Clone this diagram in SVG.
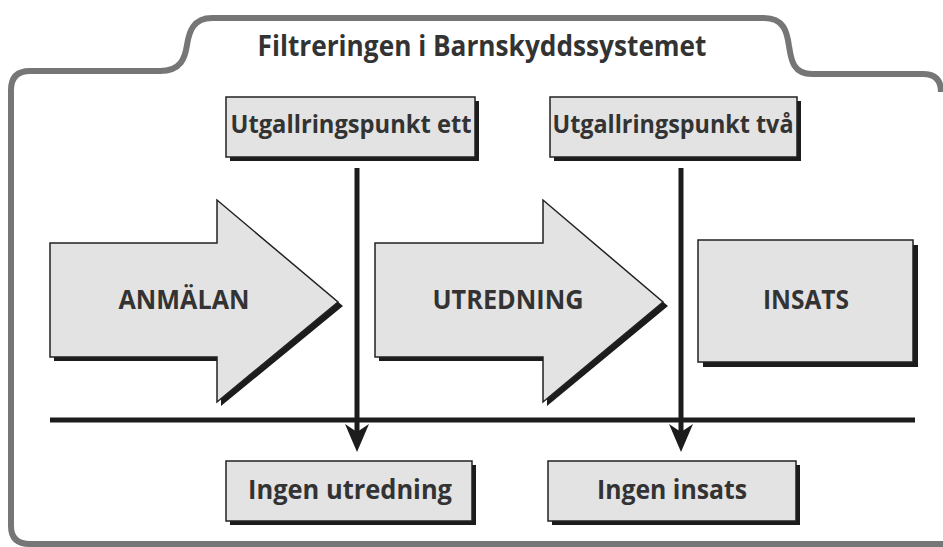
<svg xmlns="http://www.w3.org/2000/svg" width="943" height="547" viewBox="0 0 943 547">
<style>
.frame{fill:none;stroke:#767676;stroke-width:6;stroke-linejoin:round}
.shape{fill:#e3e3e3;stroke:#222;stroke-width:1.5}
.shadow{fill:#1c1c1c}
.t{font-family:"Open Sans","Liberation Sans",sans-serif;font-weight:700;fill:#333;text-anchor:middle}
.big{font-size:26px}
.mid{font-size:25px}
.con{stroke:#1c1c1c;stroke-width:5;fill:none}
.head{fill:#1c1c1c}
</style>
<rect width="943" height="547" fill="#fff"/>
<g id="frame">
<path class="frame" d="M 941,92 Q 941,74 923,74 L 812,74 C 792,74 791,58 789,46 C 787,32 784,18 764,18 L 212,18 C 193,18 189,32 187,45 C 185,58 181,71 160,71 L 30,71 Q 11,71 11,90 L 11,526 Q 11,544 30,544 L 943,544"/>
<text class="t" x="482" y="56" font-size="28" textLength="449" lengthAdjust="spacingAndGlyphs">Filtreringen i Barnskyddssystemet</text>
</g>
<g id="p1">
<rect class="shadow" x="230" y="101" width="249" height="60"/>
<rect class="shape" x="226" y="97" width="249" height="60"/>
<text class="t mid" x="351" y="133" textLength="241" lengthAdjust="spacingAndGlyphs">Utgallringspunkt ett</text>
</g>
<g id="p2">
<rect class="shadow" x="554" y="101" width="247" height="60"/>
<rect class="shape" x="550" y="97" width="247" height="60"/>
<text class="t mid" x="673" y="133" textLength="241" lengthAdjust="spacingAndGlyphs">Utgallringspunkt två</text>
</g>
<g id="anmalan">
<polygon class="shadow" points="54,247 221,247 221,205 343,306 221,406 221,361 54,361"/>
<polygon class="shape" points="50,243 217,243 217,200 338,302 217,402 217,357 50,357"/>
<text class="t big" x="184" y="309" textLength="131" lengthAdjust="spacingAndGlyphs">ANMÄLAN</text>
</g>
<g id="utredning">
<polygon class="shadow" points="379,247 547,247 547,205 668,306 547,406 547,361 379,361"/>
<polygon class="shape" points="375,243 543,243 543,200 663,302 543,402 543,357 375,357"/>
<text class="t big" x="508" y="309" textLength="151" lengthAdjust="spacingAndGlyphs">UTREDNING</text>
</g>
<g id="insats">
<rect class="shadow" x="703" y="245" width="215" height="122"/>
<rect class="shape" x="698" y="240" width="215" height="122"/>
<text class="t big" x="806" y="309" textLength="86" lengthAdjust="spacingAndGlyphs">INSATS</text>
</g>
<g id="ingen-utredning">
<rect class="shadow" x="230" y="465" width="246" height="60"/>
<rect class="shape" x="226" y="461" width="246" height="60"/>
<text class="t big" x="350" y="499" textLength="204" lengthAdjust="spacingAndGlyphs">Ingen utredning</text>
</g>
<g id="ingen-insats">
<rect class="shadow" x="552" y="465" width="248" height="60"/>
<rect class="shape" x="548" y="461" width="248" height="60"/>
<text class="t big" x="672" y="499" textLength="150" lengthAdjust="spacingAndGlyphs">Ingen insats</text>
</g>
<g id="connectors">
<line class="con" x1="50" y1="420" x2="915" y2="420"/>
<line class="con" x1="357" y1="168" x2="357" y2="440"/>
<polygon class="head" points="357,452 345,424 357,432 369,424"/>
<line class="con" x1="681" y1="168" x2="681" y2="440"/>
<polygon class="head" points="681,452 669,424 681,432 693,424"/>
</g>
</svg>
